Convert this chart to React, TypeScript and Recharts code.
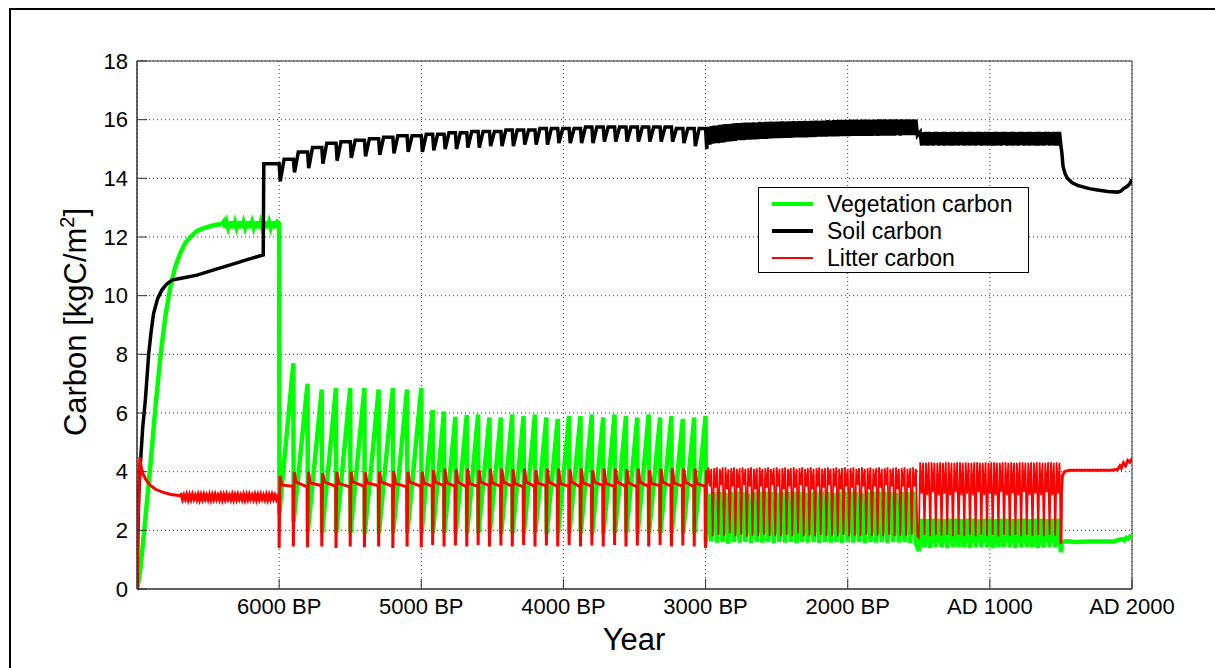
import { LineChart, Line, XAxis, YAxis, CartesianGrid, ReferenceArea, Legend } from "recharts";

const FONT = '"Liberation Sans", Arial, Helvetica, sans-serif';

// x is a running year: 6000 BP = -4000 ... AD 2000 = 2000
const TICK_YEARS = [-4000, -3000, -2000, -1000, 0, 1000, 2000];
const TICK_LABELS = ["6000 BP", "5000 BP", "4000 BP", "3000 BP", "2000 BP", "AD 1000", "AD 2000"];
const Y_TICKS = [0, 2, 4, 6, 8, 10, 12, 14, 16, 18];

type Pair = [number, number];

// spin-up, before 6000 BP
const vegSpinUp: Pair[] = [
  [-5000, 0], [-4990, 0.25], [-4977, 0.65], [-4945, 2.2], [-4906, 4.2], [-4870, 6.2], [-4836, 7.9],
  [-4800, 9.3], [-4765, 10.3], [-4730, 11.0], [-4695, 11.45], [-4660, 11.8], [-4625, 12.0],
  [-4580, 12.2], [-4531, 12.3], [-4460, 12.4], [-4400, 12.45],
];
// 10-year samples from -4390
const vegPlateau = [
  12.52, 12.32, 12.5, 12.33, 12.52, 12.3, 12.53, 12.32, 12.5, 12.33, 12.52, 12.3, 12.53,
  12.32, 12.5, 12.33, 12.52, 12.3, 12.53, 12.32, 12.5, 12.33, 12.52, 12.3, 12.53, 12.32,
  12.5, 12.33, 12.52, 12.3, 12.53, 12.32, 12.5, 12.33, 12.52, 12.3, 12.53, 12.32, 12.5,
];

const soilSpinUp: Pair[] = [
  [-5000, 0], [-4994, 2.0], [-4987, 3.3], [-4977, 4.2], [-4960, 5.5], [-4941, 6.45], [-4918, 8.0],
  [-4900, 8.8], [-4883, 9.4], [-4855, 9.9], [-4824, 10.2], [-4790, 10.4], [-4754, 10.53], [-4680, 10.6],
  [-4578, 10.7], [-4460, 10.88], [-4343, 11.05], [-4230, 11.22], [-4112, 11.39], [-4108, 14.5], [-4003, 14.5],
];

const litterSpinUp: Pair[] = [
  [-5000, 0], [-4992, 2.2], [-4980, 4.5], [-4972, 4.2], [-4960, 3.95], [-4940, 3.75], [-4910, 3.55],
  [-4870, 3.4], [-4820, 3.3], [-4760, 3.22], [-4700, 3.18],
];
// 10-year samples from -4690
const litterPlateau = [
  3.22, 3.05, 3.2, 3.06, 3.22, 3.04, 3.21, 3.05, 3.22, 3.06, 3.2, 3.05, 3.22, 3.04,
  3.21, 3.05, 3.22, 3.06, 3.2, 3.05, 3.22, 3.04, 3.21, 3.05, 3.22, 3.06, 3.2, 3.05,
  3.22, 3.04, 3.21, 3.05, 3.22, 3.06, 3.2, 3.05, 3.22, 3.04, 3.21, 3.05, 3.22, 3.06,
  3.2, 3.05, 3.22, 3.04, 3.21, 3.05, 3.22, 3.06, 3.2, 3.05, 3.22, 3.04, 3.21, 3.05,
  3.22, 3.06, 3.2, 3.05, 3.22, 3.04, 3.21, 3.05, 3.22, 3.06, 3.2, 3.05, 3.18,
];

// disturbance cycles 6000 BP - 3000 BP
const cycleYears = [
  -4000, -3900, -3800, -3700, -3600, -3500, -3400, -3300, -3200, -3100, -3000,
  -2920, -2840, -2760, -2680, -2600, -2520, -2440, -2360, -2280, -2200, -2120, -2040,
  -1960, -1880, -1800, -1720, -1640, -1560, -1480, -1400, -1320, -1240, -1160, -1080, -1000,
];
const vegPeak = [
  12.45, 7.7, 7.0, 6.8, 6.85, 6.85, 6.85, 6.8, 6.85, 6.8, 6.85,
  6.1, 6.05, 5.87, 5.93, 5.95, 5.85, 5.85, 5.95, 5.9, 5.95, 5.85, 5.8,
  5.9, 5.9, 5.95, 5.85, 5.95, 5.9, 5.85, 5.95, 5.85, 5.9, 5.8, 5.85, 5.9,
];
const vegLow = [
  2.6, 2.3, 1.95, 1.9, 1.92, 1.9, 1.88, 1.9, 1.92, 1.9, 1.9,
  1.9, 1.92, 1.88, 1.9, 1.9, 1.92, 1.88, 1.9, 1.9, 1.92, 1.88, 1.9,
  1.9, 1.92, 1.88, 1.9, 1.9, 1.92, 1.88, 1.9, 1.9, 1.92, 1.88, 1.9, 1.6,
];
const soilTop = [
  14.5, 14.65, 14.9, 15.05, 15.2, 15.25, 15.3, 15.35, 15.4, 15.45, 15.45,
  15.5, 15.5, 15.55, 15.55, 15.6, 15.6, 15.6, 15.65, 15.65, 15.65, 15.7, 15.7,
  15.7, 15.7, 15.75, 15.75, 15.75, 15.75, 15.75, 15.75, 15.75, 15.75, 15.7, 15.7, 15.7,
];
const soilDip = [
  13.9, 14.2, 14.35, 14.5, 14.6, 14.7, 14.75, 14.8, 14.85, 14.9, 14.9,
  14.95, 15.0, 15.0, 15.05, 15.05, 15.1, 15.1, 15.1, 15.15, 15.15, 15.15, 15.2,
  15.2, 15.2, 15.2, 15.25, 15.25, 15.25, 15.25, 15.25, 15.25, 15.25, 15.2, 15.1, 15.0,
];
const litterBase = [
  3.15, 3.5, 3.48, 3.52, 3.5, 3.48, 3.5, 3.52, 3.5, 3.48, 3.5,
  3.5, 3.52, 3.5, 3.48, 3.5, 3.52, 3.5, 3.5, 3.48, 3.5, 3.52, 3.5,
  3.5, 3.48, 3.5, 3.52, 3.5, 3.5, 3.48, 3.5, 3.52, 3.5, 3.5, 3.48, 3.5,
];
const litterDip = [
  1.4, 1.45, 1.42, 1.45, 1.4, 1.45, 1.42, 1.45, 1.4, 1.45, 1.42,
  1.5, 1.45, 1.48, 1.45, 1.5, 1.45, 1.48, 1.45, 1.5, 1.45, 1.48, 1.45,
  1.5, 1.45, 1.48, 1.45, 1.5, 1.45, 1.48, 1.45, 1.5, 1.45, 1.48, 1.45, 1.4,
];
const litterPeak = [
  3.85, 3.98, 4.0, 3.95, 4.0, 4.0, 3.98, 4.0, 4.02, 4.0, 4.0,
  4.05, 4.1, 4.08, 4.1, 4.05, 4.1, 4.1, 4.08, 4.1, 4.05, 4.1, 4.1,
  4.08, 4.1, 4.05, 4.1, 4.1, 4.08, 4.1, 4.05, 4.1, 4.12, 4.1, 4.1, 4.05,
];
const litterSettle = [
  3.55, 3.65, 3.62, 3.65, 3.6, 3.65, 3.62, 3.65, 3.6, 3.65, 3.62,
  3.65, 3.62, 3.65, 3.6, 3.65, 3.62, 3.65, 3.6, 3.65, 3.62, 3.65, 3.6,
  3.65, 3.62, 3.65, 3.6, 3.65, 3.62, 3.65, 3.6, 3.65, 3.62, 3.65, 3.6, 3.6,
];

// 3000 BP - AD 500: vegetation in 20-year samples from -980
const vegBand1 = [
  3.25, 1.62, 3.3, 1.58, 3.3, 1.6, 3.28, 1.55, 3.3, 1.6, 3.32, 1.58, 3.3, 1.6, 3.25, 1.57, 3.3, 1.6,
  3.3, 1.58, 3.32, 1.6, 3.3, 1.56, 3.28, 1.6, 3.3, 1.58, 3.3, 1.6, 3.32, 1.57, 3.3, 1.6, 3.28, 1.58,
  3.3, 1.6, 3.3, 1.57, 3.32, 1.6, 3.3, 1.58, 3.28, 1.6, 3.3, 1.57, 3.3, 1.6, 3.32, 1.58, 3.3, 1.6,
  3.28, 1.57, 3.3, 1.6, 3.3, 1.58, 3.32, 1.6, 3.3, 1.57, 3.3, 1.6, 3.28, 1.58, 3.3, 1.6, 3.3, 1.57,
  3.32, 1.55,
];
// litter and soil in 10-year samples from -980
const litterBand1 = [
  4.15, 3.5, 4.1, 1.8, 4.12, 3.45, 4.15, 1.85, 4.1, 3.55, 4.15, 1.8, 4.15, 3.4, 4.08, 1.9,
  4.12, 3.5, 4.15, 1.8, 4.1, 3.45, 4.12, 1.85, 4.15, 3.55, 4.1, 1.78, 4.12, 3.5, 4.15, 1.82,
  4.1, 3.4, 4.12, 1.8, 4.15, 3.5, 4.1, 1.85, 4.12, 3.45, 4.15, 1.8, 4.1, 3.55, 4.12, 1.82,
  4.15, 3.5, 4.1, 1.8, 4.12, 3.4, 4.15, 1.85, 4.1, 3.5, 4.12, 1.8, 4.15, 3.45, 4.1, 1.88,
  4.12, 3.55, 4.15, 1.8, 4.1, 3.5, 4.12, 1.82, 4.15, 3.4, 4.1, 1.8, 4.12, 3.5, 4.15, 1.85,
  4.1, 3.45, 4.12, 1.8, 4.15, 3.55, 4.1, 1.82, 4.12, 3.5, 4.15, 1.8, 4.1, 3.4, 4.12, 1.85,
  4.15, 3.5, 4.1, 1.8, 4.12, 3.45, 4.15, 1.82, 4.1, 3.55, 4.12, 1.8, 4.15, 3.5, 4.1, 1.85,
  4.12, 3.4, 4.15, 1.8, 4.1, 3.5, 4.12, 1.82, 4.15, 3.45, 4.1, 1.8, 4.12, 3.55, 4.15, 1.85,
  4.1, 3.5, 4.12, 1.8, 4.15, 3.4, 4.1, 1.82, 4.12, 3.5, 4.15, 1.8, 4.1, 3.45, 4.12, 1.85,
  4.15, 3.5, 4.1, 1.8,
];
const soilBand1 = [
  15.75, 15.15, 15.78, 15.18, 15.8, 15.2, 15.8, 15.2, 15.82, 15.22, 15.83, 15.23, 15.85, 15.25, 15.85, 15.26,
  15.86, 15.27, 15.87, 15.28, 15.88, 15.3, 15.88, 15.3, 15.89, 15.3, 15.9, 15.32, 15.9, 15.32, 15.9, 15.33,
  15.91, 15.33, 15.9, 15.34, 15.92, 15.35, 15.91, 15.35, 15.92, 15.35, 15.92, 15.36, 15.93, 15.36, 15.92, 15.37,
  15.93, 15.37, 15.93, 15.37, 15.94, 15.38, 15.93, 15.38, 15.94, 15.38, 15.94, 15.39, 15.95, 15.4, 15.94, 15.4,
  15.95, 15.4, 15.95, 15.4, 15.96, 15.4, 15.95, 15.41, 15.96, 15.41, 15.96, 15.41, 15.97, 15.42, 15.96, 15.42,
  15.97, 15.42, 15.97, 15.42, 15.98, 15.43, 15.97, 15.43, 15.98, 15.43, 15.98, 15.43, 15.99, 15.44, 15.98, 15.44,
  15.99, 15.44, 15.99, 15.44, 16.0, 15.45, 15.99, 15.45, 16.0, 15.45, 15.99, 15.45, 16.0, 15.45, 16.0, 15.45,
  16.0, 15.45, 15.99, 15.45, 16.0, 15.46, 16.0, 15.45, 16.01, 15.46, 16.0, 15.46, 16.01, 15.46, 16.0, 15.46,
  16.01, 15.46, 16.0, 15.46, 16.01, 15.47, 16.0, 15.46, 16.01, 15.47, 16.0, 15.47, 16.01, 15.47, 16.0, 15.47,
  16.01, 15.47, 16.0, 15.46,
];

// AD 500 - AD 1500: vegetation in 20-year samples from 520
const vegBand2 = [
  2.4, 1.42, 2.38, 1.4, 2.4, 1.43, 2.4, 1.42, 2.38, 1.4, 2.4, 1.42, 2.4, 1.43, 2.38, 1.42,
  2.4, 1.4, 2.4, 1.42, 2.38, 1.43, 2.4, 1.42, 2.4, 1.4, 2.38, 1.42, 2.4, 1.43, 2.4, 1.42,
  2.38, 1.4, 2.4, 1.42, 2.4, 1.43, 2.38, 1.42, 2.4, 1.4, 2.4, 1.42, 2.38, 1.43, 2.4, 1.42, 2.4,
];
// litter and soil in 10-year samples from 510
const litterBand2 = [
  4.32, 3.25, 4.3, 1.85, 4.3, 3.2, 4.32, 1.8, 4.32, 3.3, 4.3, 1.85, 4.3, 3.2, 4.32, 1.82,
  4.3, 3.25, 4.32, 1.85, 4.32, 3.2, 4.3, 1.8, 4.3, 3.3, 4.32, 1.85, 4.32, 3.2, 4.3, 1.82,
  4.32, 3.25, 4.3, 1.85, 4.3, 3.2, 4.32, 1.8, 4.32, 3.3, 4.3, 1.85, 4.3, 3.2, 4.32, 1.82,
  4.3, 3.25, 4.32, 1.85, 4.32, 3.2, 4.3, 1.8, 4.3, 3.3, 4.32, 1.85, 4.32, 3.2, 4.3, 1.82,
  4.32, 3.25, 4.3, 1.85, 4.3, 3.2, 4.32, 1.8, 4.32, 3.3, 4.3, 1.85, 4.3, 3.2, 4.32, 1.82,
  4.3, 3.25, 4.32, 1.85, 4.32, 3.2, 4.3, 1.8, 4.3, 3.3, 4.32, 1.85, 4.32, 3.2, 4.3, 1.82,
  4.32, 3.25, 4.3,
];
const soilBand2 = [
  15.58, 15.12, 15.57, 15.13, 15.58, 15.12, 15.58, 15.13, 15.57, 15.12, 15.58, 15.13, 15.58, 15.12, 15.57, 15.13,
  15.58, 15.12, 15.58, 15.13, 15.57, 15.12, 15.58, 15.12, 15.58, 15.13, 15.57, 15.12, 15.58, 15.13, 15.58, 15.12,
  15.57, 15.13, 15.58, 15.12, 15.58, 15.13, 15.57, 15.12, 15.58, 15.13, 15.58, 15.12, 15.57, 15.13, 15.58, 15.12,
  15.58, 15.13, 15.57, 15.12, 15.58, 15.12, 15.58, 15.13, 15.57, 15.12, 15.58, 15.13, 15.58, 15.12, 15.57, 15.13,
  15.58, 15.12, 15.58, 15.13, 15.57, 15.12, 15.58, 15.13, 15.58, 15.12, 15.57, 15.13, 15.58, 15.12, 15.58, 15.13,
  15.57, 15.12, 15.58, 15.12, 15.58, 15.13, 15.57, 15.12, 15.58, 15.13, 15.58, 15.12, 15.57, 15.13, 15.58, 15.12,
  15.58, 15.12, 15.58,
];

// after AD 1500
const vegTail: Pair[] = [
  [1500, 1.25], [1506, 1.6], [1540, 1.63], [1600, 1.6], [1700, 1.62], [1800, 1.62], [1880, 1.63],
  [1910, 1.68], [1930, 1.7], [1945, 1.66], [1960, 1.75], [1975, 1.72], [1990, 1.8], [2000, 1.82],
];
const soilTail: Pair[] = [
  [1500, 15.1], [1506, 14.9], [1515, 14.4], [1530, 14.15], [1546, 14.0], [1580, 13.85], [1617, 13.76],
  [1700, 13.65], [1757, 13.6], [1830, 13.55], [1898, 13.53], [1920, 13.56], [1940, 13.65],
  [1965, 13.72], [1985, 13.82], [2000, 13.97],
];
const litterTail: Pair[] = [
  [1500, 1.55], [1504, 3.3], [1510, 3.85], [1525, 4.0], [1560, 4.05], [1650, 4.05], [1750, 4.05],
  [1850, 4.05], [1900, 4.08], [1915, 4.2], [1925, 4.12], [1940, 4.3], [1955, 4.2], [1970, 4.38],
  [1985, 4.32], [2000, 4.45],
];

const sampled = (start: number, step: number, values: number[]): Pair[] =>
  values.map((v, i) => [start + i * step, v]);

const toPoints = (pairs: Pair[]) => pairs.map(([x, y]) => ({ x, y }));

const vegetation = toPoints([
  ...vegSpinUp,
  ...sampled(-4390, 10, vegPlateau),
  ...cycleYears.flatMap((t, i): Pair[] => [[t, vegPeak[i]], [t + 2, vegLow[i]]]),
  ...sampled(-980, 20, vegBand1),
  [500, 1.3],
  ...sampled(520, 20, vegBand2),
  ...vegTail,
]);

const soil = toPoints([
  ...soilSpinUp,
  ...cycleYears.flatMap((t, i): Pair[] =>
    i < cycleYears.length - 1
      ? [[t, soilTop[i]], [t + 8, soilDip[i]], [t + 35, soilTop[i + 1]]]
      : [[t, soilTop[i]], [t + 8, soilDip[i]]]
  ),
  ...sampled(-980, 10, soilBand1),
  ...sampled(510, 10, soilBand2),
  ...soilTail,
]);

const litterCycles: Pair[] = cycleYears.flatMap((t, i): Pair[] => [
  [t - 2, litterBase[i]], [t, litterDip[i]], [t + 6, litterPeak[i]], [t + 18, litterSettle[i]],
]);

// litter is one series; the dense middle part is drawn with a finer pen
const litter: { x: number; y: number | null }[] = [
  ...toPoints([...litterSpinUp, ...sampled(-4690, 10, litterPlateau), ...litterCycles]),
  { x: 0, y: null },
  ...toPoints(litterTail),
];
const litterDense = toPoints([
  litterCycles[litterCycles.length - 1],
  ...sampled(-980, 10, litterBand1),
  [500, 1.75],
  ...sampled(510, 10, litterBand2),
  litterTail[0],
]);

const legendItems = [
  { label: "Vegetation carbon", color: "#00ff00", width: 4 },
  { label: "Soil carbon", color: "#000000", width: 4 },
  { label: "Litter carbon", color: "#ff0000", width: 2 },
];

function LegendBox() {
  return (
    <div
      style={{
        position: "relative", width: 271, height: 86, boxSizing: "border-box",
        border: "1px solid #000", background: "#fff", fontFamily: FONT,
      }}
    >
      {legendItems.map((it, i) => (
        <div key={it.label} style={{ position: "absolute", left: 0, top: 3 + i * 27, height: 26, display: "flex", alignItems: "center" }}>
          <svg width={68} height={26} style={{ display: "block" }}>
            <line x1={13} x2={54} y1={13} y2={13} stroke={it.color} strokeWidth={it.width} />
          </svg>
          <span style={{ fontSize: 23, color: "#000", lineHeight: "26px", whiteSpace: "nowrap" }}>{it.label}</span>
        </div>
      ))}
    </div>
  );
}

const tickFont = { fill: "#000", fontSize: 22, fontFamily: FONT };

export default function App() {
  return (
    <div style={{ position: "relative", width: 1215, height: 668, overflow: "hidden", background: "#fff" }}>
      <style>{"body{margin:0}"}</style>
      <div
        style={{
          position: "absolute", left: 9, top: 8, width: 1400, height: 900,
          borderTop: "2px solid #000", borderLeft: "2px solid #000",
        }}
      />
      <div style={{ position: "absolute", left: 0, top: 0 }}>
        <LineChart width={1215} height={668} margin={{ top: 61, right: 83, bottom: 0, left: 0 }}>
          <CartesianGrid stroke="#333" strokeDasharray="1 3" />
          <XAxis
            dataKey="x"
            type="number"
            domain={[-5000, 2000]}
            allowDataOverflow
            ticks={TICK_YEARS}
            interval={0}
            tickFormatter={(v: number) => TICK_LABELS[TICK_YEARS.indexOf(v)] ?? ""}
            height={79}
            tickSize={-10}
            tickMargin={19}
            tick={tickFont}
            axisLine={{ stroke: "#333" }}
            tickLine={{ stroke: "#333" }}
            label={() => (
              <text x={634} y={650} textAnchor="middle" fontSize={31} fontFamily={FONT} fill="#000">
                Year
              </text>
            )}
          />
          <XAxis
            xAxisId="top"
            orientation="top"
            dataKey="x"
            type="number"
            domain={[-5000, 2000]}
            ticks={TICK_YEARS}
            interval={0}
            height={0}
            tickSize={-10}
            tickFormatter={() => ""}
            axisLine={false}
            tickLine={{ stroke: "#333" }}
          />
          <YAxis
            type="number"
            domain={[0, 18]}
            ticks={Y_TICKS}
            interval={0}
            width={137}
            tickSize={-10}
            tickMargin={19}
            tick={tickFont}
            axisLine={{ stroke: "#333" }}
            tickLine={{ stroke: "#333" }}
            label={() => (
              <text
                x={86}
                y={322}
                transform="rotate(-90 86 322)"
                textAnchor="middle"
                fontSize={31}
                fontFamily={FONT}
                fill="#000"
              >
                Carbon [kgC/m<tspan dy={-12} fontSize={20}>2</tspan>
                <tspan dy={12}>]</tspan>
              </text>
            )}
          />
          <YAxis
            yAxisId="right"
            orientation="right"
            type="number"
            domain={[0, 18]}
            ticks={Y_TICKS}
            interval={0}
            width={0}
            tickSize={-10}
            tickFormatter={() => ""}
            axisLine={false}
            tickLine={{ stroke: "#333" }}
          />
          <Line data={vegetation} dataKey="y" name="Vegetation carbon" type="linear" stroke="#00ff00" strokeWidth={4.5} dot={false} activeDot={false} isAnimationActive={false} />
          <Line data={soil} dataKey="y" name="Soil carbon" type="linear" stroke="#000000" strokeWidth={3.5} dot={false} activeDot={false} isAnimationActive={false} />
          <Line data={litter} dataKey="y" name="Litter carbon" type="linear" stroke="#ff0000" strokeWidth={3} dot={false} activeDot={false} isAnimationActive={false} />
          <Line data={litterDense} dataKey="y" name="Litter carbon (dense)" legendType="none" type="linear" stroke="#ff0000" strokeWidth={1.8} dot={false} activeDot={false} isAnimationActive={false} />
          <ReferenceArea x1={-5000} x2={2000} y1={0} y2={18} fill="none" stroke="#333" strokeWidth={1} ifOverflow="visible" />
          <Legend
            layout="vertical"
            align="center"
            verticalAlign="middle"
            content={() => <LegendBox />}
            wrapperStyle={{ left: 758, top: 187, width: 271, height: 86, right: "auto", bottom: "auto" }}
          />
        </LineChart>
      </div>
    </div>
  );
}
